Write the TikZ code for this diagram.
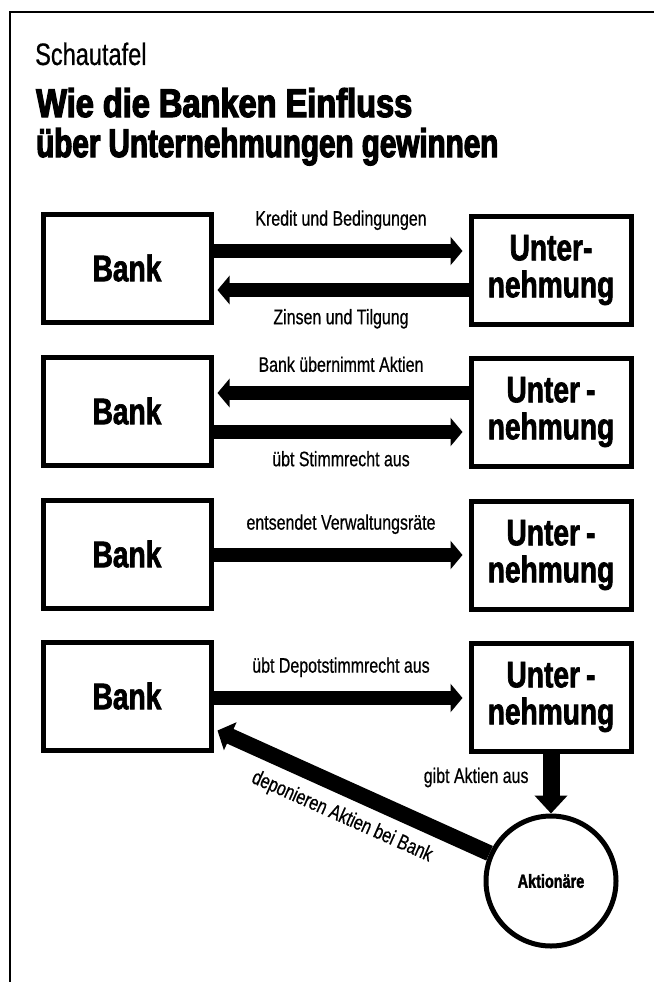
\documentclass[tikz,border=0pt]{standalone}
\usepackage{fontspec}
\setmainfont[FakeStretch=0.76,UprightFeatures={FakeBold=0.6},BoldFeatures={FakeBold=1.8}]{Liberation Sans}
\newfontfamily\heavyfont[FakeStretch=0.74,BoldFeatures={FakeBold=3}]{Liberation Sans}
\usetikzlibrary{arrows.meta}

\tikzset{
  bankbox/.style={draw, line width=5pt, minimum width=168pt, minimum height=108pt,
    inner sep=0pt, font=\fontsize{37}{37}\selectfont\bfseries},
  untbox/.style={draw, line width=5pt, minimum width=160pt, minimum height=108pt,
    inner sep=0pt, align=center, font=\fontsize{37}{37}\selectfont\bfseries},
  flow/.style={line width=14pt, -{Triangle[length=12pt,width=28pt]}},
  flowlabel/.style={inner sep=0pt, font=\fontsize{21}{21}\selectfont},
}

\begin{document}
\begin{tikzpicture}[x=1pt,y=-1pt]
\useasboundingbox (0,0) rectangle (654,982);
\draw[line width=2pt] (10,982) -- (10,12) -- (654,12);

% Kopf
\node[anchor=base west, inner sep=0pt, font=\fontsize{31}{31}\selectfont] (kicker) at (35,65) {Schautafel};
\node[anchor=base west, inner sep=0pt, xscale=1.1, font=\heavyfont\bfseries\fontsize{40}{40}\selectfont] (title1) at (36,117) {Wie die Banken Einfluss};
\node[anchor=base west, inner sep=0pt, font=\heavyfont\bfseries\fontsize{40}{40}\selectfont] (title2) at (36,157) {über Unternehmungen gewinnen};

% Kredit
\node[bankbox] (bank1) at (127,268) {Bank};
\node[untbox] (unt1) at (551,270) {Unter-\\nehmung};
\draw[flow, shorten >=6pt] ([yshift=17pt]bank1.east) -- ([yshift=17pt]bank1.east -| unt1.west)
  node[flowlabel, midway, above=14pt] {Kredit und Bedingungen};
\draw[flow, shorten >=4pt] ([yshift=-22pt]bank1.east -| unt1.west) -- ([yshift=-22pt]bank1.east)
  node[flowlabel, midway, below=12pt] {Zinsen und Tilgung};

% Aktien
\node[bankbox] (bank2) at (127,411) {Bank};
\node[untbox] (unt2) at (551,412) {Unter\,-\\nehmung};
\draw[flow, shorten >=4pt] ([yshift=18pt]bank2.east -| unt2.west) -- ([yshift=18pt]bank2.east)
  node[flowlabel, midway, above=14pt] {Bank übernimmt Aktien};
\draw[flow, shorten >=6pt] ([yshift=-21pt]bank2.east) -- ([yshift=-21pt]bank2.east -| unt2.west)
  node[flowlabel, midway, below=12pt] {übt Stimmrecht aus};

% Verwaltungsrat
\node[bankbox] (bank3) at (127,554) {Bank};
\node[untbox] (unt3) at (551,555) {Unter\,-\\nehmung};
\draw[flow, shorten >=6pt] ([yshift=-1pt]bank3.east) -- ([yshift=-1pt]bank3.east -| unt3.west)
  node[flowlabel, midway, above=14pt] {entsendet Verwaltungsräte};

% Depotstimmrecht
\node[bankbox] (bank4) at (127,696) {Bank};
\node[untbox] (unt4) at (551,697) {Unter\,-\\nehmung};
\draw[flow, shorten >=6pt] ([yshift=-2pt]bank4.east) -- ([yshift=-2pt]bank4.east -| unt4.west)
  node[flowlabel, midway, above=14pt] {übt Depotstimmrecht aus};

\node[draw, circle, line width=5pt, minimum size=130pt, inner sep=0pt,
  font=\fontsize{19}{19}\selectfont\bfseries] (akt) at (551,881) {Aktionäre};
\draw[flow, line width=17pt, -{Triangle[length=18pt,width=32pt]}] (unt4.south) -- (unt4.south |- akt.north)
  node[flowlabel, pos=0.4, left=14pt] {gibt Aktien aus};

\coordinate (deptip) at ([shift={(4pt,22pt)}]bank4.south east);
\draw[flow, line width=16pt, -{Triangle[length=14pt,width=30pt]}] (akt) -- (deptip);
\node[flowlabel, rotate=-24] (deplabel) at (342,817) {deponieren Aktien bei Bank};
\end{tikzpicture}
\end{document}
